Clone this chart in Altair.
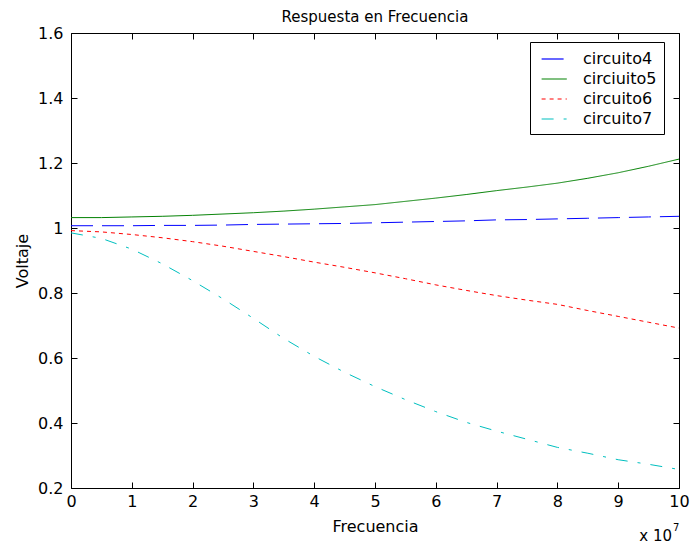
import altair as alt
import pandas as pd

freq = [0, 0.5, 1, 1.5, 2, 2.5, 3, 3.5, 4, 4.5, 5, 5.5, 6, 6.5, 7, 7.5, 8, 8.5, 9, 9.5, 10]
circuito4 = [1.007, 1.007, 1.007, 1.008, 1.008, 1.009, 1.011, 1.012, 1.013, 1.014, 1.016,
             1.018, 1.020, 1.022, 1.025, 1.026, 1.028, 1.030, 1.032, 1.034, 1.036]
circiuito5 = [1.032, 1.032, 1.034, 1.036, 1.039, 1.043, 1.047, 1.052, 1.058, 1.065, 1.072,
              1.082, 1.092, 1.103, 1.115, 1.126, 1.138, 1.153, 1.170, 1.190, 1.212]
circuito6 = [0.992, 0.988, 0.980, 0.970, 0.958, 0.944, 0.928, 0.912, 0.895, 0.879, 0.862,
             0.844, 0.825, 0.808, 0.792, 0.778, 0.765, 0.746, 0.728, 0.710, 0.692]
circuito7 = [0.985, 0.968, 0.935, 0.890, 0.838, 0.782, 0.722, 0.660, 0.605, 0.556, 0.512,
             0.472, 0.435, 0.402, 0.375, 0.350, 0.325, 0.307, 0.287, 0.273, 0.257]

series_names = ["circuito4", "circiuito5", "circuito6", "circuito7"]
series_values = [circuito4, circiuito5, circuito6, circuito7]
series_colors = ["#0000ff", "#008000", "#ff0000", "#00bfbf"]
series_dashes = [[22, 9], [1, 0], [4, 4], [12, 10, 3, 10]]

x_ticks = [0, 1, 2, 3, 4, 5, 6, 7, 8, 9, 10]
y_ticks = [0.2, 0.4, 0.6, 0.8, 1.0, 1.2, 1.4, 1.6]

rows = []
for name, vals in zip(series_names, series_values):
    for f, v in zip(freq, vals):
        rows.append({"Frecuencia": f, "Voltaje": v, "serie": name})
df = pd.DataFrame(rows)

FONT = "DejaVu Sans"
W, H = 608, 455
TICK = 6

xscale = alt.Scale(domain=[0, 10], nice=False, zero=False)
yscale = alt.Scale(domain=[0.2, 1.6], nice=False, zero=False)

legend = alt.Legend(title=None, orient="none", legendX=459, legendY=9,
                    symbolType="M-0.6,0H2.2", symbolSize=324, symbolStrokeWidth=1.2,
                    labelFontSize=16, labelFont=FONT, labelColor="black", labelOffset=26,
                    strokeColor="black", fillColor="white",
                    padding=7, rowPadding=2, cornerRadius=0)

main = alt.Chart(df).mark_line(strokeWidth=1, clip=True).encode(
    x=alt.X("Frecuencia:Q", scale=xscale,
            axis=alt.Axis(orient="bottom", values=x_ticks, format="d", labelFlush=False,
                          offset=-TICK, tickSize=TICK, domain=False, labelPadding=5,
                          title="Frecuencia", titlePadding=9, grid=False)),
    y=alt.Y("Voltaje:Q", scale=yscale,
            axis=alt.Axis(orient="left", values=y_ticks, format="~g", labelFlush=False,
                          offset=-TICK, tickSize=TICK, domain=False, labelPadding=8,
                          title="Voltaje", titlePadding=7, grid=False)),
    color=alt.Color("serie:N", scale=alt.Scale(domain=series_names, range=series_colors),
                    legend=legend),
    strokeDash=alt.StrokeDash("serie:N", scale=alt.Scale(domain=series_names, range=series_dashes),
                              legend=legend),
)

frame = alt.Chart(df).mark_line(opacity=0).encode(
    x=alt.X("Frecuencia:Q", scale=xscale,
            axis=alt.Axis(orient="top", values=x_ticks, labels=False,
                          offset=-TICK, tickSize=TICK, domain=False, title=None, grid=False)),
    y=alt.Y("Voltaje:Q", scale=yscale,
            axis=alt.Axis(orient="right", values=y_ticks,
                          labels=False, offset=-TICK, tickSize=TICK, domain=False,
                          title=None, grid=False)),
)

exp_base = alt.Chart(pd.DataFrame({"t": ["x 10"]})).mark_text(
    font=FONT, fontSize=15, align="right", baseline="alphabetic", color="black"
).encode(text="t:N", x=alt.value(601), y=alt.value(508))

exp_sup = alt.Chart(pd.DataFrame({"t": ["7"]})).mark_text(
    font=FONT, fontSize=10, align="left", baseline="alphabetic", color="black"
).encode(text="t:N", x=alt.value(602), y=alt.value(498))

chart = alt.layer(main, frame, exp_base, exp_sup).resolve_axis(
    x="independent", y="independent"
).properties(
    width=W, height=H,
    background="white",
    title=alt.TitleParams("Respuesta en Frecuencia", font=FONT, fontSize=15,
                          fontWeight="normal", anchor="middle", offset=0, color="black"),
    autosize=alt.AutoSizeParams(type="none"),
    padding={"left": 71, "top": 33, "right": 17, "bottom": 56},
).configure_view(
    stroke="black", strokeWidth=1
).configure_axis(
    labelFont=FONT, labelFontSize=16, labelColor="black", tickColor="black",
    titleFont=FONT, titleFontSize=16, titleFontWeight="normal", titleColor="black",
    tickWidth=1
)

chart.save("out.html", embed_options={"renderer": "svg", "actions": False})
